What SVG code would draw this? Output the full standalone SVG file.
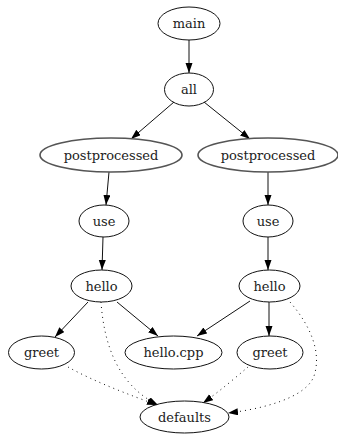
<svg xmlns="http://www.w3.org/2000/svg" width="338" height="436" viewBox="0 0 338 436">
<defs>
<style>
.n ellipse{fill:none;stroke:#111;stroke-width:1}
.n.pp ellipse{stroke:#555;stroke-width:1.6}
.n text{font-family:"DejaVu Serif",serif;font-size:13px;fill:#222;text-anchor:middle}
.e path{fill:none;stroke:#111;stroke-width:1}
.e .d{stroke-dasharray:1,4}
</style>
<marker id="ar" markerUnits="userSpaceOnUse" markerWidth="11" markerHeight="8" refX="10" refY="3.5" orient="auto">
<path d="M0,0 L10,3.5 L0,7 z" fill="#000"/>
</marker>
</defs>
<rect width="338" height="436" fill="#fff"/>
<g id="edges" class="e">
<path d="M189,40 L189,73" marker-end="url(#ar)"/>
<path d="M174,102 L131,139" marker-end="url(#ar)"/>
<path d="M204,102 L250,139" marker-end="url(#ar)"/>
<path d="M109,172 L106,205" marker-end="url(#ar)"/>
<path d="M268,172 L268,205" marker-end="url(#ar)"/>
<path d="M103,237 L102,270" marker-end="url(#ar)"/>
<path d="M268,237 L268,270" marker-end="url(#ar)"/>
<path d="M88,302 L55,337" marker-end="url(#ar)"/>
<path d="M117,302 L158,336" marker-end="url(#ar)"/>
<path d="M250,301 L197,336" marker-end="url(#ar)"/>
<path d="M269,302 L269,336" marker-end="url(#ar)"/>
<path class="d" d="M101,302 C104,345 118,385 158,405" marker-end="url(#ar)"/>
<path class="d" d="M68,367 C95,382 130,395 157,405" marker-end="url(#ar)"/>
<path class="d" d="M248,367 C235,378 220,391 203,403" marker-end="url(#ar)"/>
<path class="d" d="M290,302 C310,325 322,352 314,376 C306,398 262,409 228,413" marker-end="url(#ar)"/>
</g>
<g id="main" class="n"><ellipse cx="189" cy="23.5" rx="31" ry="16.5"/><text x="189" y="28">main</text></g>
<g id="all" class="n"><ellipse cx="189" cy="89.5" rx="24.5" ry="16.5"/><text x="189" y="94">all</text></g>
<g id="postprocessed1" class="n pp"><ellipse cx="111" cy="155" rx="71" ry="17"/><text x="111" y="159.5">postprocessed</text></g>
<g id="postprocessed2" class="n pp"><ellipse cx="268" cy="155" rx="70" ry="17"/><text x="268" y="159.5">postprocessed</text></g>
<g id="use1" class="n"><ellipse cx="104" cy="221" rx="25" ry="16"/><text x="104" y="225.5">use</text></g>
<g id="use2" class="n"><ellipse cx="268" cy="221" rx="25" ry="16"/><text x="268" y="225.5">use</text></g>
<g id="hello1" class="n"><ellipse cx="101.5" cy="286" rx="30.5" ry="16"/><text x="101.5" y="290.5">hello</text></g>
<g id="hello2" class="n"><ellipse cx="269.5" cy="286" rx="30.5" ry="16"/><text x="269.5" y="290.5">hello</text></g>
<g id="greet1" class="n"><ellipse cx="41.5" cy="352.5" rx="33" ry="16.5"/><text x="41.5" y="357">greet</text></g>
<g id="hellocpp" class="n"><ellipse cx="173.5" cy="352.5" rx="48.5" ry="16.5"/><text x="173.5" y="357">hello.cpp</text></g>
<g id="greet2" class="n"><ellipse cx="270" cy="352.5" rx="33" ry="16.5"/><text x="270" y="357">greet</text></g>
<g id="defaults" class="n"><ellipse cx="184.5" cy="417" rx="44.5" ry="16"/><text x="184.5" y="421.5">defaults</text></g>
</svg>
